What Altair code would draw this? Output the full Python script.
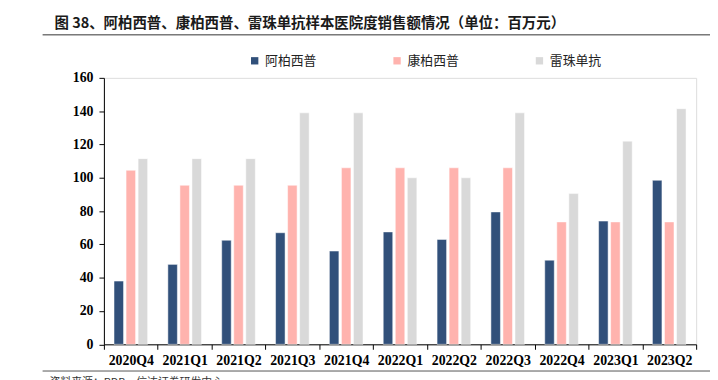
import altair as alt
import pandas as pd

quarters = ["2020Q4", "2021Q1", "2021Q2", "2021Q3", "2021Q4", "2022Q1",
            "2022Q2", "2022Q3", "2022Q4", "2023Q1", "2023Q2"]
series_names = ["阿柏西普", "康柏西普", "雷珠单抗"]
aflibercept = [38, 48, 62.5, 67, 56, 67.5, 63, 79.5, 50.5, 74, 98.5]
conbercept = [104.5, 95.5, 95.5, 95.5, 106, 106, 106, 106, 73.5, 73.5, 73.5]
ranibizumab = [111.5, 111.5, 111.5, 139, 139, 100, 100, 139, 90.5, 122, 141.5]
colors = ["#31507A", "#FFB3AE", "#D9D9D9"]
y_ticks = [0, 20, 40, 60, 80, 100, 120, 140, 160]

title_text = "图 38、阿柏西普、康柏西普、雷珠单抗样本医院度销售额情况（单位：百万元）"
footer_text = "资料来源：PDB，信达证券研发中心"

rows = []
for i, q in enumerate(quarters):
    for name, vals in zip(series_names, [aflibercept, conbercept, ranibizumab]):
        rows.append({"quarter": q, "series": name, "value": vals[i]})
df = pd.DataFrame(rows)

serif = "Liberation Serif"
cjk = "Noto Sans CJK SC"

bars = alt.Chart(df).mark_bar(stroke="white", strokeWidth=0.5).encode(
    x=alt.X("quarter:N", sort=quarters, title=None,
            scale=alt.Scale(paddingInner=0, paddingOuter=0),
            axis=alt.Axis(labelAngle=0, labelFont=serif, labelFontWeight="bold",
                          labelFontSize=14, labelColor="black", tickBand="extent",
                          tickSize=5, tickColor="black", domainColor="black",
                          labelPadding=4)),
    xOffset=alt.XOffset("series:N", sort=series_names,
                        scale=alt.Scale(paddingInner=0.21, paddingOuter=0.84)),
    y=alt.Y("value:Q", title=None,
            scale=alt.Scale(domain=[0, 160], nice=False),
            axis=alt.Axis(values=y_ticks, grid=False, labelFont=serif,
                          labelFontWeight="bold", labelFontSize=14, labelColor="black",
                          tickSize=5, tickColor="black", domainColor="black",
                          labelPadding=6)),
    color=alt.Color("series:N", sort=series_names,
                    scale=alt.Scale(domain=series_names, range=colors),
                    legend=alt.Legend(orient="none", legendX=146, legendY=-24,
                                      direction="horizontal", columns=3,
                                      title=None, symbolType="square", symbolSize=55,
                                      symbolStrokeWidth=0, labelFont=cjk,
                                      labelFontSize=13, labelColor="#222",
                                      columnPadding=74, symbolOffset=0,
                                      labelOffset=4)),
)

title_df = pd.DataFrame({"t": [title_text]})
title_mark = alt.Chart(title_df).mark_text(
    font=cjk, fontSize=14.6, fontWeight="bold", align="left", baseline="middle",
    color="#1a1a1a"
).encode(text="t:N", x=alt.value(-50), y=alt.value(-54))

title_rule = alt.Chart(title_df).mark_rule(color="#333", strokeWidth=1).encode(
    x=alt.value(-62), x2=alt.value(620), y=alt.value(-43.5))

footer_rule = alt.Chart(title_df).mark_rule(color="#555", strokeWidth=1).encode(
    x=alt.value(-62), x2=alt.value(620), y=alt.value(296.5))

footer_df = pd.DataFrame({"t": [footer_text]})
footer_mark = alt.Chart(footer_df).mark_text(
    font=cjk, fontSize=11, align="left", baseline="top", color="#333"
).encode(text="t:N", x=alt.value(-55), y=alt.value(303))

chart = alt.layer(bars, title_mark, title_rule, footer_rule, footer_mark).properties(
    width=599, height=269.5,
    autosize=alt.AutoSizeParams(type="none"),
    padding={"left": 97, "top": 68.5, "right": 14, "bottom": 40},
).configure_view(stroke=None).configure(background="white")

chart.save("out.html", embed_options={"renderer": "svg", "actions": False})
